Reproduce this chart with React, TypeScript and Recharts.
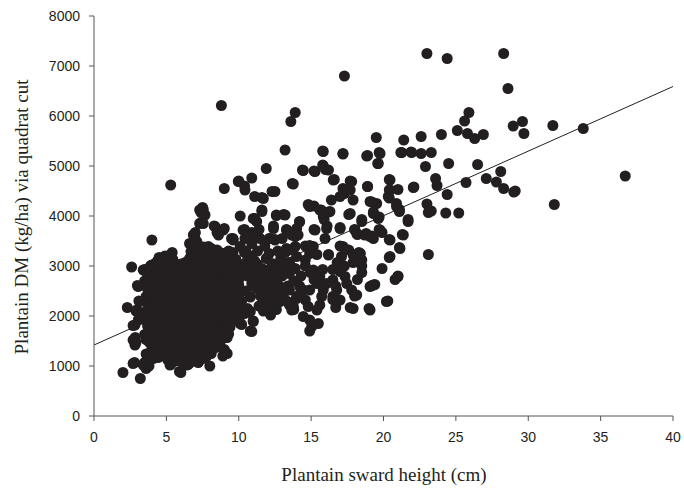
import { ScatterChart, Scatter, XAxis, YAxis, ReferenceLine } from 'recharts';

// sward height (cm) vs quadrat-cut DM (kg/ha)
const edgePoints: [number, number][] = [
  [2.0, 870], [3.2, 750], [2.7, 1050], [2.8, 1070], [3.4, 1020], [3.6, 950], [3.5, 1070], [3.8, 1000],
  [4.1, 1150], [4.4, 1170], [4.2, 1300], [4.3, 1320], [5.25, 1020], [5.3, 1030], [5.6, 1100], [5.9, 890],
  [6.0, 870], [5.6, 1190], [6.4, 1020], [6.5, 1030], [2.3, 2170], [2.6, 2980], [3.0, 2610], [3.06, 2590],
  [2.95, 2120], [3.18, 2290], [2.83, 1820], [3.06, 1920], [2.7, 1520], [2.83, 1420], [2.9, 1470], [2.85, 1570],
  [3.1, 2300], [2.9, 2100], [2.7, 1810], [3.4, 2920], [3.5, 2930], [3.9, 3000], [3.98, 3020], [4.44, 3120],
  [5.25, 3220], [4.0, 3520], [3.6, 1530], [3.5, 1630], [3.4, 2070], [3.5, 1930], [3.75, 1770], [4.3, 3070],
  [4.5, 3170], [4.9, 3070], [5.3, 3200], [5.45, 3130], [5.4, 3270], [5.8, 3000], [5.7, 2800], [6.2, 2930],
  [6.3, 3070], [6.6, 3450], [7.1, 2990], [6.95, 3590], [6.86, 3620], [7.1, 3490], [7.0, 3670], [6.95, 3530],
];

const denseCore: [number, number][] = [
  [3.6, 1240], [3.7, 1800], [3.5, 1960], [3.7, 2250], [3.6, 2390], [3.7, 2540], [3.5, 2700], [3.7, 2830],
  [3.9, 1170], [4.0, 1350], [3.8, 1480], [3.9, 1620], [4.0, 1900], [3.8, 2040], [3.9, 2190], [4.0, 2330],
  [3.8, 2480], [3.9, 2610], [4.0, 2760], [3.9, 2900], [4.2, 1420], [4.3, 1560], [4.1, 1700], [4.2, 1850],
  [4.3, 1990], [4.1, 2120], [4.2, 2270], [4.3, 2400], [4.1, 2560], [4.2, 2690], [4.3, 2840], [4.1, 2980],
  [4.5, 1180], [4.6, 1330], [4.4, 1470], [4.5, 1610], [4.6, 1760], [4.4, 1880], [4.5, 2030], [4.6, 2160],
  [4.4, 2310], [4.5, 2440], [4.6, 2590], [4.4, 2730], [4.5, 2870], [4.6, 3010], [4.8, 1250], [4.9, 1390],
  [4.7, 1540], [4.8, 1680], [4.9, 1820], [4.7, 1950], [4.8, 2090], [4.9, 2230], [4.7, 2360], [4.8, 2500],
  [4.9, 2650], [4.7, 2790], [4.8, 2930], [4.9, 3200], [5.1, 1120], [5.2, 1300], [5.0, 1450], [5.1, 1590],
  [5.2, 1730], [5.0, 1870], [5.1, 2000], [5.2, 2150], [5.0, 2290], [5.1, 2420], [5.2, 2570], [5.0, 2710],
  [5.1, 2850], [5.2, 2990], [5.0, 3130], [5.4, 1200], [5.5, 1360], [5.3, 1510], [5.4, 1640], [5.5, 1790],
  [5.3, 1930], [5.4, 2060], [5.5, 2200], [5.3, 2340], [5.4, 2470], [5.5, 2620], [5.3, 2760], [5.4, 2900],
  [5.5, 3030], [5.7, 1280], [5.8, 1430], [5.6, 1570], [5.7, 1710], [5.8, 1850], [5.6, 1980], [5.7, 2120],
  [5.8, 2260], [5.6, 2400], [5.7, 2530], [5.8, 2680], [5.6, 2950], [6.0, 1090], [6.1, 1230], [5.9, 1380],
  [6.0, 1520], [6.1, 1660], [5.9, 1800], [6.0, 1940], [6.1, 2080], [5.9, 2210], [6.0, 2350], [6.1, 2490],
  [5.9, 2630], [6.0, 2770], [6.1, 2900], [6.0, 3040], [6.3, 1160], [6.4, 1310], [6.2, 1450], [6.3, 1590],
  [6.4, 1730], [6.2, 1870], [6.3, 2010], [6.4, 2150], [6.2, 2280], [6.3, 2420], [6.4, 2560], [6.2, 2700],
  [6.3, 2840], [6.4, 2980], [6.6, 1060], [6.7, 1210], [6.5, 1350], [6.6, 1490], [6.7, 1630], [6.5, 1770],
  [6.6, 1910], [6.7, 2050], [6.5, 2190], [6.6, 2320], [6.7, 2460], [6.5, 2600], [6.6, 2740], [6.7, 2870],
  [6.5, 3010], [6.6, 3150], [6.7, 3290], [6.9, 1110], [7.0, 1260], [6.8, 1400], [6.9, 1540], [7.0, 1680],
  [6.8, 1820], [6.9, 1960], [7.0, 2100], [6.8, 2240], [6.9, 2370], [7.0, 2510], [6.8, 2650], [6.9, 2790],
  [7.0, 2920], [6.8, 3060], [6.9, 3200], [7.0, 3340], [6.9, 3480], [7.2, 1080], [7.3, 1230], [7.1, 1370],
  [7.2, 1510], [7.3, 1650], [7.1, 1790], [7.2, 1930], [7.3, 2070], [7.1, 2210], [7.2, 2340], [7.3, 2480],
  [7.1, 2620], [7.2, 2760], [7.3, 2890], [7.1, 3030], [7.2, 3170], [7.3, 3310], [7.2, 3420], [7.5, 1150],
  [7.6, 1290], [7.4, 1430], [7.5, 1570], [7.6, 1710], [7.4, 1850], [7.5, 1990], [7.6, 2130], [7.4, 2270],
  [7.5, 2410], [7.6, 2550], [7.4, 2690], [7.5, 2820], [7.6, 2960], [7.4, 3100], [7.5, 3240], [7.6, 3380],
  [7.8, 1200], [7.9, 1340], [7.7, 1480], [7.8, 1620], [7.9, 1760], [7.7, 1900], [7.8, 2040], [7.9, 2180],
  [7.7, 2320], [7.8, 2450], [7.9, 2590], [7.7, 2730], [7.8, 2870], [7.9, 3000], [7.7, 3140], [7.8, 3280],
  [7.9, 3390], [8.1, 1250], [8.2, 1390], [8.0, 1530], [8.1, 1670], [8.2, 1810], [8.0, 1950], [8.1, 2090],
  [8.2, 2230], [8.0, 2370], [8.1, 2510], [8.2, 2650], [8.0, 2790], [8.1, 2930], [8.2, 3070], [8.0, 3210],
  [8.1, 3350], [8.4, 1510], [8.5, 1650], [8.3, 1790], [8.4, 1930], [8.5, 2070], [8.3, 2200], [8.4, 2340],
  [8.5, 2480], [8.3, 2620], [8.4, 2760], [8.5, 2900], [8.3, 3040], [8.4, 3180], [8.5, 3320], [8.7, 1440],
  [8.8, 1580], [8.6, 1720], [8.7, 1860], [8.8, 2000], [8.6, 2140], [8.7, 2280], [8.8, 2420], [8.6, 2560],
  [8.7, 2700], [8.8, 2840], [8.6, 2980], [8.7, 3120], [8.8, 3260], [9.0, 1330], [9.1, 1570], [8.9, 1730],
  [9.0, 1880], [9.1, 2020], [8.9, 2160], [9.0, 2300], [9.1, 2440], [8.9, 2580], [9.0, 2720], [9.1, 2860],
  [8.9, 3000], [9.0, 3140], [9.3, 1640], [9.4, 1780], [9.2, 1920], [9.3, 2060], [9.4, 2200], [9.2, 2340],
  [9.3, 2480], [9.4, 2620], [9.2, 2760], [9.3, 2900], [9.4, 3040], [9.3, 3300], [9.6, 1930], [9.7, 2130],
  [9.5, 2280], [9.6, 2400], [9.7, 2550], [9.5, 2700], [9.6, 2950], [9.7, 3100], [9.6, 3550], [9.9, 2000],
  [10.0, 2180], [9.8, 2330], [9.9, 2470], [10.0, 2620], [9.8, 2870], [9.9, 3050],
];

const leftBand: [number, number][] = [
  [8.0, 1000], [7.7, 1200], [7.2, 1070], [6.8, 1100], [6.8, 1270], [6.3, 1330], [5.8, 1170], [8.3, 1530],
  [8.4, 1370], [8.4, 1700], [8.1, 1870], [8.9, 1200], [9.0, 1300], [8.5, 1390], [9.2, 1250], [9.0, 1730],
  [9.2, 1570], [8.9, 2000], [9.0, 2130], [8.9, 2330], [9.3, 2470], [9.3, 2600], [9.2, 2800], [9.2, 3000],
  [9.2, 3200], [9.6, 3270], [9.8, 3130], [7.5, 4170], [7.4, 4070], [7.4, 3870], [7.55, 4130], [7.67, 4020],
  [7.55, 3850], [7.3, 4120], [7.3, 3850], [8.3, 3800], [8.5, 3670], [9.0, 3750], [8.36, 3790], [8.93, 3720],
  [8.6, 3620], [9.5, 3550], [9.62, 3520], [8.8, 6210], [5.3, 4620], [9.0, 4550], [10.0, 4700], [9.97, 4690],
];

const midBand: [number, number][] = [
  [10.4, 4600], [10.43, 4520], [10.9, 4760], [11.1, 4390], [11.6, 4370], [11.7, 4350], [12.3, 4490], [12.5, 4490],
  [11.9, 4950], [13.2, 5320], [10.1, 4000], [11.1, 3950], [11.6, 4120], [11.0, 3950], [11.24, 3890], [11.6, 4090],
  [12.6, 4010], [13.1, 4030], [13.2, 4020], [12.6, 4020], [10.9, 3670], [11.4, 3730], [10.4, 3730], [10.3, 3720],
  [10.43, 3550], [10.9, 3590], [11.47, 3550], [12.16, 3550], [12.5, 3520], [12.4, 3750], [12.4, 3800], [12.1, 3550],
  [12.5, 3530], [13.2, 3270], [13.3, 3720], [13.9, 3590], [13.9, 3390], [10.1, 3390], [9.8, 3130], [10.4, 3270],
  [10.5, 3070], [10.8, 3200], [11.3, 3030], [11.1, 2870], [11.0, 2700], [11.5, 2630], [11.7, 2430], [11.7, 2330],
  [10.4, 2830], [10.0, 2730], [10.1, 2470], [10.0, 2270], [10.3, 2070], [10.7, 2070], [11.0, 1900], [10.8, 1700],
  [10.2, 1830], [10.1, 2000], [10.9, 1690], [10.1, 1850], [11.0, 1890], [10.4, 2050], [10.8, 2090], [11.8, 2290],
  [12.2, 2020], [12.4, 2220], [12.85, 2290], [13.5, 2220], [13.66, 2120], [14.0, 2350], [12.2, 2070], [12.6, 2130],
  [12.5, 2600], [12.8, 3000], [13.5, 3070], [13.2, 2870], [13.4, 2600], [13.6, 2270], [13.8, 2130], [10.3, 2950],
  [10.6, 2800], [10.9, 2650], [10.5, 2500], [10.8, 2380], [10.2, 2300], [10.6, 2150], [11.2, 2550], [11.4, 2750],
  [11.6, 2950], [11.9, 3150], [11.3, 3300], [11.8, 3400], [12.1, 3250], [12.3, 3050], [12.0, 2850], [12.4, 2700],
  [12.2, 2500], [12.6, 2400], [12.8, 2600], [13.0, 2800], [12.9, 3150], [13.3, 3350], [13.0, 3550], [12.7, 3300],
  [12.5, 2950], [13.1, 2450], [12.0, 2200], [11.5, 2400], [11.9, 2600], [10.9, 3450], [11.1, 3100], [10.7, 3200],
  [12.6, 2250], [13.3, 2300], [11.7, 2100], [13.7, 4650], [13.77, 4640], [13.9, 6070], [13.6, 5890], [13.5, 3320],
  [10.5, 3300], [11.0, 3000], [11.3, 2850], [12.2, 2950], [12.7, 2800], [13.0, 3000], [13.5, 2850], [13.8, 2700],
  [14.3, 2800], [14.2, 2600], [13.9, 2950], [12.3, 2350], [11.4, 2200], [11.8, 2750], [10.8, 2950], [12.9, 2350],
];

const rightBand: [number, number][] = [
  [15.84, 5290], [17.2, 5240], [18.84, 5200], [19.76, 5250], [19.64, 5050], [21.26, 5270], [21.95, 5270], [14.46, 4910],
  [15.27, 4890], [15.84, 5000], [16.2, 4920], [16.53, 4720], [17.8, 4690], [17.2, 4550], [17.7, 4520], [17.3, 4450],
  [17.9, 4320], [17.0, 4390], [16.4, 4320], [18.9, 4590], [20.45, 4720], [20.45, 4520], [20.33, 4390], [21.0, 4530],
  [22.06, 4570], [19.07, 4290], [19.53, 4250], [20.9, 4190], [21.1, 4090], [21.7, 3890], [14.9, 4190], [15.6, 4120],
  [16.3, 4090], [15.84, 3990], [17.7, 4050], [18.5, 3890], [19.3, 4050], [19.64, 3950], [14.2, 3890], [14.0, 3750],
  [14.1, 3620], [13.66, 3620], [15.27, 3720], [16.07, 3750], [15.96, 3550], [17.0, 3750], [18.03, 3720], [18.15, 3650],
  [18.7, 3620], [19.07, 3590], [19.3, 3550], [19.76, 3720], [20.45, 3520], [21.37, 3620], [21.14, 3350], [14.0, 3190],
  [14.7, 3390], [15.15, 3390], [14.9, 3250], [14.6, 3120], [16.2, 3220], [17.2, 3390], [17.6, 3320], [17.1, 3190],
  [17.9, 3220], [18.4, 3250], [18.5, 3120], [19.9, 2950], [20.45, 3190], [15.15, 2920], [15.6, 2790], [15.4, 2650],
  [16.07, 2650], [16.5, 2720], [17.0, 2890], [17.34, 2790], [17.46, 2650], [17.8, 2520], [18.15, 2420], [16.77, 2520],
  [16.5, 2390], [17.0, 2320], [15.84, 2520], [15.73, 2390], [15.6, 2220], [14.9, 2520], [14.6, 2320], [14.8, 2190],
  [19.3, 2620], [19.07, 2590], [21.0, 2790], [20.8, 2730], [20.2, 2290], [17.9, 2150], [19.07, 2120], [15.4, 2120],
  [15.5, 1850], [14.9, 1920], [14.46, 1990], [15.04, 1790], [14.9, 1700], [13.77, 2190], [13.5, 2520], [14.0, 2390],
  [14.46, 2520], [14.3, 2530], [14.1, 2400], [13.2, 2870], [13.5, 3070], [14.6, 3000], [14.95, 2870], [15.2, 2730],
  [15.8, 2930], [16.5, 2930], [16.8, 3070], [17.3, 3000], [18.5, 3000], [18.5, 2870], [18.2, 2730], [18.0, 2400],
  [17.7, 2170], [16.7, 2170], [16.5, 2330], [16.7, 2600], [14.6, 3400], [14.9, 3410], [15.4, 3230], [16.2, 3230],
  [17.0, 3400], [17.4, 3330], [18.3, 3270], [17.9, 3070], [15.2, 3730], [14.2, 3880], [14.0, 3630], [13.3, 3730],
  [16.1, 3800], [15.9, 3930], [16.2, 4080], [15.7, 4120], [15.2, 4200], [14.8, 4230], [16.6, 4730], [16.0, 4930],
  [15.8, 5020], [15.2, 4900], [14.4, 4920], [17.7, 4700], [17.4, 4530], [17.6, 4030], [17.0, 3770], [18.0, 3730],
  [18.2, 3630], [18.8, 3650], [19.2, 3600], [19.9, 3670], [19.7, 3730], [19.7, 3980], [19.3, 4080], [19.2, 4280],
  [18.9, 4590], [18.5, 3930], [19.0, 2150], [19.2, 2610], [19.4, 2630], [20.3, 2300], [20.4, 3170], [20.4, 3530],
  [21.1, 3370], [21.3, 3630], [21.7, 3930], [20.9, 4250], [21.1, 4130], [20.4, 4360], [20.4, 4520], [20.4, 4730],
  [21.0, 2800], [17.3, 6800], [19.5, 5570], [19.7, 5270], [18.9, 5210], [19.6, 5050], [17.2, 5250], [15.8, 5300],
  [21.2, 5270], [21.9, 5280], [21.4, 5520], [22.1, 4580],
];

const upperRight: [number, number][] = [
  [23.0, 7250], [24.4, 7150], [28.3, 7250], [28.6, 6550], [25.9, 6070], [25.6, 5900], [29.6, 5890], [28.96, 5800],
  [29.7, 5650], [31.7, 5810], [33.8, 5750], [36.7, 4800], [31.8, 4230], [24.0, 5630], [25.1, 5710], [25.8, 5650],
  [26.3, 5550], [26.9, 5630], [22.6, 5590], [22.6, 5250], [23.3, 5270], [22.9, 4990], [24.5, 5050], [26.5, 5030],
  [27.1, 4750], [27.8, 4680], [28.1, 4890], [28.3, 4550], [29.0, 4480], [29.1, 4500], [25.7, 4670], [24.4, 4430],
  [23.6, 4750], [23.7, 4610], [23.0, 4240], [23.1, 4070], [23.3, 4100], [24.3, 4060], [25.2, 4060], [23.1, 3230],
];

const trendX = [0, 40];
const trendY = [1420, 6590];

const xTicks = [0, 5, 10, 15, 20, 25, 30, 35, 40];
const yTicks = [0, 1000, 2000, 3000, 4000, 5000, 6000, 7000, 8000];

const points = [...edgePoints, ...denseCore, ...leftBand, ...midBand, ...rightBand, ...upperRight].map(
  ([x, y]) => ({ x, y })
);

const dot = (props: any) => <circle cx={props.cx} cy={props.cy} r={5.5} fill="#231f20" />;

const tickStyle = { fontFamily: '"Liberation Sans", Arial, sans-serif', fontSize: 14, fill: '#231f20' };
const titleFont = '"Liberation Serif", "Times New Roman", serif';

export default function App() {
  return (
    <div style={{ position: 'absolute', left: 0, top: 0, width: 684, height: 490, background: '#fff' }}>
      <ScatterChart width={684} height={490} margin={{ top: 16, right: 11, bottom: 44, left: 0 }}>
        <XAxis
          type="number"
          dataKey="x"
          domain={[0, 40]}
          ticks={xTicks}
          tick={tickStyle}
          tickSize={5}
          tickMargin={11}
          height={30}
          stroke="#555"
        />
        <YAxis
          type="number"
          dataKey="y"
          domain={[0, 8000]}
          ticks={yTicks}
          tick={tickStyle}
          tickSize={5}
          tickMargin={9}
          width={94}
          stroke="#555"
        />
        <Scatter data={points} shape={dot} isAnimationActive={false} />
        <ReferenceLine
          segment={[
            { x: trendX[0], y: trendY[0] },
            { x: trendX[1], y: trendY[1] },
          ]}
          stroke="#231f20"
          strokeWidth={1}
        />
      </ScatterChart>
      <div
        style={{
          position: 'absolute',
          left: 0,
          top: 464,
          width: 768,
          textAlign: 'center',
          fontFamily: titleFont,
          fontSize: 19,
          lineHeight: '22px',
          color: '#231f20',
        }}
      >
        Plantain sward height (cm)
      </div>
      <div
        style={{
          position: 'absolute',
          left: 22,
          top: 217,
          transform: 'translate(-50%, -50%) rotate(-90deg)',
          whiteSpace: 'nowrap',
          fontFamily: titleFont,
          fontSize: 19,
          lineHeight: '22px',
          color: '#231f20',
        }}
      >
        Plantain DM (kg/ha) via quadrat cut
      </div>
    </div>
  );
}
